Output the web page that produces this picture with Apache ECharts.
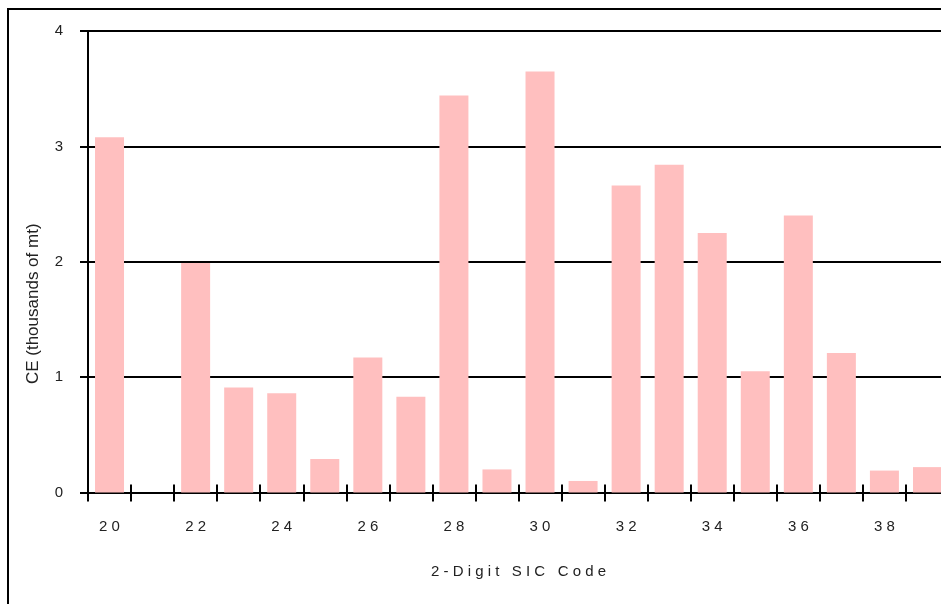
<!DOCTYPE html>
<html>
<head>
<meta charset="utf-8">
<script src="https://cdn.jsdelivr.net/npm/echarts@6/dist/echarts.min.js"></script>
<style>
  html, body { margin: 0; padding: 0; background: #fff; }
  #chart { width: 941px; height: 604px; }
</style>
</head>
<body>
<div id="chart"></div>
<script>
'use strict';
/* CE by 2-digit SIC code */

var sicCodes = ['20', '21', '22', '23', '24', '25', '26', '27', '28', '29',
                '30', '31', '32', '33', '34', '35', '36', '37', '38', '39'];
var ceValues = [3.08, null, 1.99, 0.91, 0.86, 0.29, 1.17, 0.83, 3.44, 0.20,
                3.65, 0.10, 2.66, 2.84, 2.25, 1.05, 2.40, 1.21, 0.19, 0.22];
var yTicks = [0, 1, 2, 3, 4];

var FONT = 'Liberation Sans, Arial, sans-serif';

// spread letters out a bit, the original uses letter spacing
function spaced(str) {
  return str.split('').join(' ');
}

var chart = echarts.init(document.getElementById('chart'));

// plot runs off the right edge of the picture
var gridPos = { left: 88, top: 31, width: 861, bottom: 111.5, outerBoundsMode: 'none' };

var option = {
  animation: false,
  backgroundColor: '#fff',
  graphic: [{
    type: 'rect',
    shape: { x: 8, y: 9, width: 1000, height: 1000 },
    style: { fill: 'none', stroke: '#000', lineWidth: 2 },
    z: 0
  }],
  grid: [
    Object.assign({}, gridPos),
    Object.assign({}, gridPos)
  ],
  xAxis: [{
    type: 'category',
    gridIndex: 0,
    data: sicCodes,
    position: 'bottom',
    axisLine: { lineStyle: { color: '#000', width: 2 } },
    axisTick: { show: true, interval: 0, length: 9, lineStyle: { color: '#000', width: 2 } },
    axisLabel: {
      interval: 1,
      margin: 27,
      color: '#222',
      fontFamily: FONT,
      fontSize: 15,
      formatter: function(v) { return spaced(v); }
    },
    name: spaced('2-Digit SIC Code'),
    nameLocation: 'middle',
    nameGap: 72,
    nameTextStyle: { color: '#222', fontFamily: FONT, fontSize: 15 }
  }, {
    type: 'category',
    gridIndex: 1,
    data: sicCodes,
    position: 'bottom',
    axisLine: { show: false },
    axisTick: { show: true, inside: true, interval: 0, length: 8, lineStyle: { color: '#000', width: 2 } },
    axisLabel: { show: false }
  }],
  yAxis: [{
    type: 'value',
    gridIndex: 0,
    min: yTicks[0],
    max: yTicks[yTicks.length - 1],
    interval: 1,
    axisLine: { show: true, lineStyle: { color: '#000', width: 2 } },
    axisTick: { show: true, length: 8, lineStyle: { color: '#000', width: 2 } },
    splitLine: { show: true, lineStyle: { color: '#000', width: 2 } },
    axisLabel: {
      margin: 25,
      color: '#222',
      fontFamily: FONT,
      fontSize: 15,
      padding: [0, 0, 9, 0]
    },
    name: 'CE (thousands of mt)',
    nameLocation: 'middle',
    nameGap: 46,
    nameTextStyle: { color: '#222', fontFamily: FONT, fontSize: 17, padding: [0, 84, 0, 0] }
  }, {
    type: 'value',
    gridIndex: 1,
    min: 0,
    max: 4,
    show: false
  }],
  series: [{
    name: 'CE',
    type: 'bar',
    xAxisIndex: 0,
    yAxisIndex: 0,
    data: ceValues,
    barWidth: 29,
    itemStyle: { color: '#FFBFBF' }
  }]
};

chart.setOption(option);
</script>
</body>
</html>
